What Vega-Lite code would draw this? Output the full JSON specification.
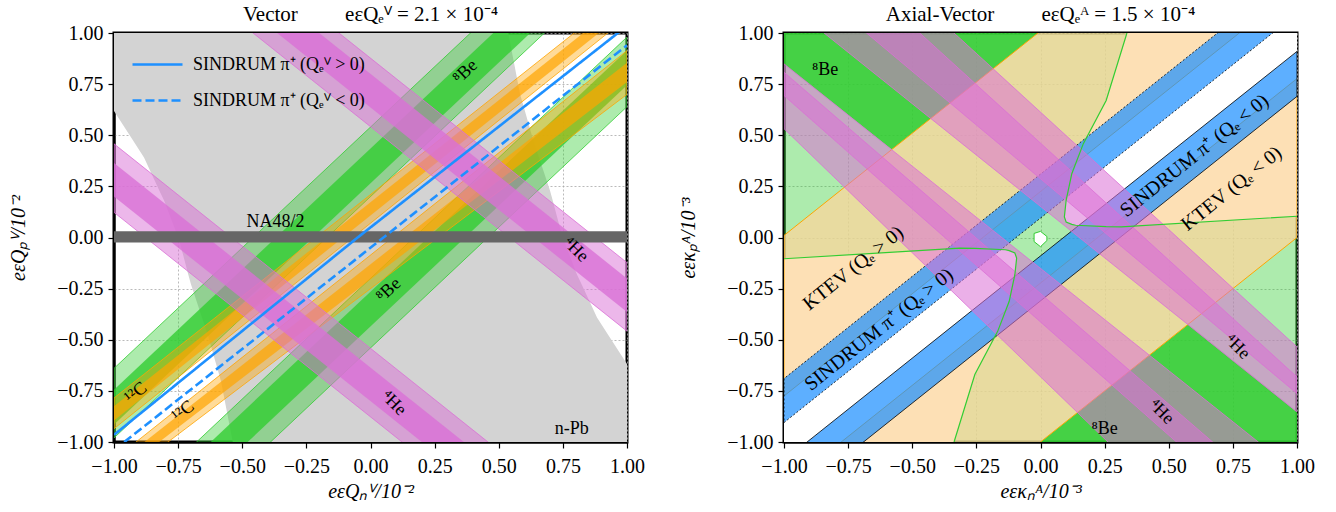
{
"$schema":"https://vega.github.io/schema/vega-lite/v6.json",
"padding":{"left":7,"top":2,"right":5,"bottom":5},
"spacing":31,
"datasets":{
"vgray":[{"y":1,"xl":-1,"xr":0.537},{"y":0.702,"xl":-1,"xr":0.583},{"y":0.619,"xl":-1,"xr":0.602},{"y":0.473,"xl":-0.925,"xr":0.635},{"y":0.391,"xl":-0.883,"xr":0.657},{"y":0.229,"xl":-0.823,"xr":0.70},{"y":0.178,"xl":-0.804,"xr":0.711},{"y":0.017,"xl":-0.755,"xr":0.745},{"y":-0.017,"xl":-0.745,"xr":0.755},{"y":-0.178,"xl":-0.711,"xr":0.804},{"y":-0.229,"xl":-0.70,"xr":0.823},{"y":-0.391,"xl":-0.657,"xr":0.883},{"y":-0.473,"xl":-0.635,"xr":0.925},{"y":-0.619,"xl":-0.602,"xr":1},{"y":-0.702,"xl":-0.583,"xr":1},{"y":-1,"xl":-0.537,"xr":1}],
"vgo":[{"id":"g1","x":-1,"lo":-0.98,"hi":-0.64},{"id":"g1","x":1,"lo":1.38,"hi":1.72},{"id":"g2","x":-1,"lo":-1.72,"hi":-1.38},{"id":"g2","x":1,"lo":0.64,"hi":0.98}],
"vgc":[{"id":"g1","x":-1,"lo":-0.915,"hi":-0.745},{"id":"g1","x":1,"lo":1.445,"hi":1.615},{"id":"g2","x":-1,"lo":-1.615,"hi":-1.445},{"id":"g2","x":1,"lo":0.745,"hi":0.915}],
"voo":[{"id":"c1","x":-1,"lo":-0.935,"hi":-0.785},{"id":"c1","x":1,"lo":1.075,"hi":1.205},{"id":"c2","x":-1,"lo":-1.20,"hi":-1.086},{"id":"c2","x":1,"lo":0.70,"hi":0.914}],
"voc":[{"id":"c1","x":-1,"lo":-0.895,"hi":-0.825},{"id":"c1","x":1,"lo":1.11,"hi":1.17},{"id":"c2","x":-1,"lo":-1.17,"hi":-1.117},{"id":"c2","x":1,"lo":0.76,"hi":0.855}],
"vpo":[{"id":"p1","x":-1,"lo":1.542,"hi":1.877},{"id":"p1","x":1,"lo":-0.458,"hi":-0.123},{"id":"p2","x":-1,"lo":0.123,"hi":0.458},{"id":"p2","x":1,"lo":-1.877,"hi":-1.542}],
"vpc":[{"id":"p1","x":-1,"lo":1.636,"hi":1.80},{"id":"p1","x":1,"lo":-0.364,"hi":-0.20},{"id":"p2","x":-1,"lo":0.20,"hi":0.364},{"id":"p2","x":1,"lo":-1.80,"hi":-1.636}],
"vna":[{"x":-1,"lo":-0.025,"hi":0.03},{"x":1,"lo":-0.025,"hi":0.03}],
"vlines":[{"s":"SINDRUM π⁺ (Qₑⱽ > 0)","x":-1,"y":-0.965},{"s":"SINDRUM π⁺ (Qₑⱽ > 0)","x":-0.05,"y":0},{"s":"SINDRUM π⁺ (Qₑⱽ > 0)","x":1,"y":1.035},{"s":"SINDRUM π⁺ (Qₑⱽ < 0)","x":-1,"y":-1.04},{"s":"SINDRUM π⁺ (Qₑⱽ < 0)","x":1,"y":0.94}],
"vt1":[{"x":0.37,"y":0.81,"t":"⁸Be"},{"x":0.071,"y":-0.257,"t":"⁸Be"}],
"vt2":[{"x":0.80,"y":-0.06,"t":"⁴He"},{"x":0.09,"y":-0.81,"t":"⁴He"}],
"vt3":[{"x":-0.915,"y":-0.76,"t":"¹²C"},{"x":-0.73,"y":-0.85,"t":"¹²C"}],
"vt4":[{"x":-0.37,"y":0.075,"t":"NA48/2"},{"x":0.785,"y":-0.935,"t":"n-Pb"}],
"alg":[{"x":-1,"lo":-1,"hi":1},{"x":1,"lo":-1,"hi":1}],
"awz":[{"id":"ne","x":0.093,"lo":0.10,"hi":0.10},{"id":"ne","x":0.10,"lo":0.076,"hi":0.182},{"id":"ne","x":0.122,"lo":0.064,"hi":0.312},{"id":"ne","x":0.137,"lo":0.06,"hi":0.361},{"id":"ne","x":0.167,"lo":0.057,"hi":0.459},{"id":"ne","x":0.256,"lo":0.053,"hi":0.67},{"id":"ne","x":0.315,"lo":0.052,"hi":0.91},{"id":"ne","x":0.337,"lo":0.052,"hi":1},{"id":"ne","x":1,"lo":0.104,"hi":1},
{"id":"sw","x":-1,"lo":-1,"hi":-0.104},{"id":"sw","x":-0.337,"lo":-1,"hi":-0.052},{"id":"sw","x":-0.315,"lo":-0.91,"hi":-0.052},{"id":"sw","x":-0.256,"lo":-0.67,"hi":-0.053},{"id":"sw","x":-0.167,"lo":-0.459,"hi":-0.057},{"id":"sw","x":-0.137,"lo":-0.361,"hi":-0.06},{"id":"sw","x":-0.122,"lo":-0.312,"hi":-0.064},{"id":"sw","x":-0.10,"lo":-0.182,"hi":-0.076},{"id":"sw","x":-0.093,"lo":-0.10,"hi":-0.10}],
"adg":[{"id":"tl","x":-1,"lo":0.849,"hi":1},{"id":"tl","x":-0.58,"lo":0.43,"hi":1},{"id":"tl","x":-0.01,"lo":1,"hi":1},{"id":"br","x":0,"lo":-1,"hi":-1},{"id":"br","x":0.575,"lo":-1,"hi":-0.425},{"id":"br","x":1,"lo":-1,"hi":-0.853}],
"apeach":[{"id":"pp","x":-1,"lo":-0.775,"hi":0.01},{"id":"pp","x":1,"lo":1.225,"hi":2.01},{"id":"pm","x":-1,"lo":-2.0,"hi":-1.223},{"id":"pm","x":1,"lo":0.0,"hi":0.777}],
"abu":[{"x":-1,"lo":-0.905,"hi":-0.69},{"x":1,"lo":1.095,"hi":1.31}],
"abl":[{"x":-1,"lo":-1.31,"hi":-1.09},{"x":1,"lo":0.69,"hi":0.91}],
"apink":[{"id":"u1","x":-1,"lo":1.157,"hi":1.605},{"id":"u1","x":1,"lo":-0.853,"hi":-0.682},{"id":"u2","x":-1,"lo":1.338,"hi":1.761},{"id":"u2","x":1,"lo":-0.763,"hi":-0.535},{"id":"l1","x":-1,"lo":0.532,"hi":0.808},{"id":"l1","x":1,"lo":-1.894,"hi":-1.356},{"id":"l2","x":-1,"lo":0.694,"hi":0.849},{"id":"l2","x":1,"lo":-1.52,"hi":-1.151}],
"acurves":[{"id":"ur","o":1,"x":0.337,"y":1},{"id":"ur","o":2,"x":0.256,"y":0.67},{"id":"ur","o":3,"x":0.167,"y":0.459},{"id":"ur","o":4,"x":0.122,"y":0.312},{"id":"ur","o":5,"x":0.10,"y":0.182},{"id":"ur","o":6,"x":0.093,"y":0.10},{"id":"ur","o":7,"x":0.10,"y":0.076},{"id":"ur","o":8,"x":0.122,"y":0.064},{"id":"ur","o":9,"x":0.137,"y":0.06},{"id":"ur","o":10,"x":0.256,"y":0.053},{"id":"ur","o":11,"x":0.315,"y":0.052},{"id":"ur","o":12,"x":1,"y":0.104},
{"id":"ll","o":1,"x":-0.337,"y":-1},{"id":"ll","o":2,"x":-0.256,"y":-0.67},{"id":"ll","o":3,"x":-0.167,"y":-0.459},{"id":"ll","o":4,"x":-0.122,"y":-0.312},{"id":"ll","o":5,"x":-0.10,"y":-0.182},{"id":"ll","o":6,"x":-0.093,"y":-0.10},{"id":"ll","o":7,"x":-0.10,"y":-0.076},{"id":"ll","o":8,"x":-0.122,"y":-0.064},{"id":"ll","o":9,"x":-0.137,"y":-0.06},{"id":"ll","o":10,"x":-0.256,"y":-0.053},{"id":"ll","o":11,"x":-0.315,"y":-0.052},{"id":"ll","o":12,"x":-1,"y":-0.104}],
"aspot":[{"x":-0.025,"lo":-0.02,"hi":0.02},{"x":0,"lo":-0.045,"hi":0.03},{"x":0.025,"lo":-0.015,"hi":0.005}],
"at1":[{"x":-0.84,"y":0.82,"t":"⁸Be"},{"x":0.25,"y":-0.935,"t":"⁸Be"}],
"at2":[{"x":0.767,"y":-0.535,"t":"⁴He"},{"x":0.471,"y":-0.853,"t":"⁴He"}],
"at3":[{"x":-0.73,"y":-0.15,"t":"KTEV (Qₑ > 0)"},{"x":-0.63,"y":-0.45,"t":"SINDRUM π⁺ (Qₑ > 0)"},{"x":0.60,"y":0.40,"t":"SINDRUM π⁺ (Qₑ < 0)"},{"x":0.745,"y":0.239,"t":"KTEV (Qₑ < 0)"}]
},
"hconcat":[
{
"width":513,"height":409,
"title":{"text":"Vector\u2003\u2003 eεQₑⱽ = 2.1 × 10⁻⁴"},
"layer":[
{"data":{"name":"vgray"},"mark":{"type":"area","orient":"horizontal","fill":"#d3d3d3","clip":true},
"encoding":{"y":{"field":"y","type":"quantitative","scale":{"domain":[-1,1],"nice":false,"zero":false},"axis":{"title":"eεQₚⱽ/10⁻²","values":[-1,-0.75,-0.5,-0.25,0,0.25,0.5,0.75,1],"format":".2f"}},
"x":{"field":"xl","type":"quantitative","scale":{"domain":[-1,1],"nice":false,"zero":false},"axis":{"title":"eεQₙⱽ/10⁻²","values":[-1,-0.75,-0.5,-0.25,0,0.25,0.5,0.75,1],"format":".2f"}},"x2":{"field":"xr"}}},
{"data":{"name":"vgo"},"mark":{"type":"area","fill":"#32cd32","fillOpacity":0.4,"stroke":"#32cd32","strokeWidth":0.8,"clip":true},
"encoding":{"x":{"field":"x","type":"quantitative","scale":{"domain":[-1,1],"nice":false,"zero":false},"axis":{"title":"eεQₙⱽ/10⁻²","values":[-1,-0.75,-0.5,-0.25,0,0.25,0.5,0.75,1],"format":".2f"}},
"y":{"field":"lo","type":"quantitative","scale":{"domain":[-1,1],"nice":false,"zero":false},"axis":{"title":"eεQₚⱽ/10⁻²","values":[-1,-0.75,-0.5,-0.25,0,0.25,0.5,0.75,1],"format":".2f"}},"y2":{"field":"hi"},"detail":{"field":"id"}}},
{"data":{"name":"vgc"},"mark":{"type":"area","fill":"#32cd32","fillOpacity":0.8,"clip":true},
"encoding":{"x":{"field":"x","type":"quantitative","scale":{"domain":[-1,1],"nice":false,"zero":false},"axis":{"title":"eεQₙⱽ/10⁻²","values":[-1,-0.75,-0.5,-0.25,0,0.25,0.5,0.75,1],"format":".2f"}},
"y":{"field":"lo","type":"quantitative","scale":{"domain":[-1,1],"nice":false,"zero":false},"axis":{"title":"eεQₚⱽ/10⁻²","values":[-1,-0.75,-0.5,-0.25,0,0.25,0.5,0.75,1],"format":".2f"}},"y2":{"field":"hi"},"detail":{"field":"id"}}},
{"data":{"name":"voo"},"mark":{"type":"area","fill":"#ffa500","fillOpacity":0.4,"stroke":"#ffa500","strokeWidth":0.8,"clip":true},
"encoding":{"x":{"field":"x","type":"quantitative","scale":{"domain":[-1,1],"nice":false,"zero":false},"axis":{"title":"eεQₙⱽ/10⁻²","values":[-1,-0.75,-0.5,-0.25,0,0.25,0.5,0.75,1],"format":".2f"}},
"y":{"field":"lo","type":"quantitative","scale":{"domain":[-1,1],"nice":false,"zero":false},"axis":{"title":"eεQₚⱽ/10⁻²","values":[-1,-0.75,-0.5,-0.25,0,0.25,0.5,0.75,1],"format":".2f"}},"y2":{"field":"hi"},"detail":{"field":"id"}}},
{"data":{"name":"voc"},"mark":{"type":"area","fill":"#ffa500","fillOpacity":0.7,"clip":true},
"encoding":{"x":{"field":"x","type":"quantitative","scale":{"domain":[-1,1],"nice":false,"zero":false},"axis":{"title":"eεQₙⱽ/10⁻²","values":[-1,-0.75,-0.5,-0.25,0,0.25,0.5,0.75,1],"format":".2f"}},
"y":{"field":"lo","type":"quantitative","scale":{"domain":[-1,1],"nice":false,"zero":false},"axis":{"title":"eεQₚⱽ/10⁻²","values":[-1,-0.75,-0.5,-0.25,0,0.25,0.5,0.75,1],"format":".2f"}},"y2":{"field":"hi"},"detail":{"field":"id"}}},
{"data":{"name":"vpo"},"mark":{"type":"area","fill":"#da70d6","fillOpacity":0.5,"stroke":"#da70d6","strokeWidth":0.8,"clip":true},
"encoding":{"x":{"field":"x","type":"quantitative","scale":{"domain":[-1,1],"nice":false,"zero":false},"axis":{"title":"eεQₙⱽ/10⁻²","values":[-1,-0.75,-0.5,-0.25,0,0.25,0.5,0.75,1],"format":".2f"}},
"y":{"field":"lo","type":"quantitative","scale":{"domain":[-1,1],"nice":false,"zero":false},"axis":{"title":"eεQₚⱽ/10⁻²","values":[-1,-0.75,-0.5,-0.25,0,0.25,0.5,0.75,1],"format":".2f"}},"y2":{"field":"hi"},"detail":{"field":"id"}}},
{"data":{"name":"vpc"},"mark":{"type":"area","fill":"#da70d6","fillOpacity":0.8,"clip":true},
"encoding":{"x":{"field":"x","type":"quantitative","scale":{"domain":[-1,1],"nice":false,"zero":false},"axis":{"title":"eεQₙⱽ/10⁻²","values":[-1,-0.75,-0.5,-0.25,0,0.25,0.5,0.75,1],"format":".2f"}},
"y":{"field":"lo","type":"quantitative","scale":{"domain":[-1,1],"nice":false,"zero":false},"axis":{"title":"eεQₚⱽ/10⁻²","values":[-1,-0.75,-0.5,-0.25,0,0.25,0.5,0.75,1],"format":".2f"}},"y2":{"field":"hi"},"detail":{"field":"id"}}},
{"data":{"name":"vna"},"mark":{"type":"area","fill":"#666666","clip":true},
"encoding":{"x":{"field":"x","type":"quantitative","scale":{"domain":[-1,1],"nice":false,"zero":false},"axis":{"title":"eεQₙⱽ/10⁻²","values":[-1,-0.75,-0.5,-0.25,0,0.25,0.5,0.75,1],"format":".2f"}},
"y":{"field":"lo","type":"quantitative","scale":{"domain":[-1,1],"nice":false,"zero":false},"axis":{"title":"eεQₚⱽ/10⁻²","values":[-1,-0.75,-0.5,-0.25,0,0.25,0.5,0.75,1],"format":".2f"}},"y2":{"field":"hi"}}},
{"data":{"name":"vlines"},"mark":{"type":"line","color":"#1e90ff","strokeWidth":2.6,"clip":true},
"encoding":{"x":{"field":"x","type":"quantitative","scale":{"domain":[-1,1],"nice":false,"zero":false},"axis":{"title":"eεQₙⱽ/10⁻²","values":[-1,-0.75,-0.5,-0.25,0,0.25,0.5,0.75,1],"format":".2f"}},
"y":{"field":"y","type":"quantitative","scale":{"domain":[-1,1],"nice":false,"zero":false},"axis":{"title":"eεQₚⱽ/10⁻²","values":[-1,-0.75,-0.5,-0.25,0,0.25,0.5,0.75,1],"format":".2f"}},
"strokeDash":{"field":"s","type":"nominal","scale":{"domain":["SINDRUM π⁺ (Qₑⱽ > 0)","SINDRUM π⁺ (Qₑⱽ < 0)"],"range":[[1,0],[9,4]]},
"legend":{"title":null,"orient":"none","legendX":17,"legendY":5,"symbolType":"stroke","symbolSize":2500,"symbolStrokeWidth":2.6,"symbolStrokeColor":"#1e90ff","labelFont":"Liberation Serif","labelFontSize":18,"labelColor":"black","labelOffset":9,"labelLimit":0,"rowPadding":-26}}}},
{"data":{"name":"vt1"},"mark":{"type":"text","angle":-43,"fontSize":18,"font":"Liberation Serif","color":"black","baseline":"middle","align":"center"},
"encoding":{"x":{"field":"x","type":"quantitative","scale":{"domain":[-1,1],"nice":false,"zero":false},"axis":{"title":"eεQₙⱽ/10⁻²","values":[-1,-0.75,-0.5,-0.25,0,0.25,0.5,0.75,1],"format":".2f"}},
"y":{"field":"y","type":"quantitative","scale":{"domain":[-1,1],"nice":false,"zero":false},"axis":{"title":"eεQₚⱽ/10⁻²","values":[-1,-0.75,-0.5,-0.25,0,0.25,0.5,0.75,1],"format":".2f"}},"text":{"field":"t"}}},
{"data":{"name":"vt2"},"mark":{"type":"text","angle":45,"fontSize":18,"font":"Liberation Serif","color":"black","baseline":"middle","align":"center"},
"encoding":{"x":{"field":"x","type":"quantitative","scale":{"domain":[-1,1],"nice":false,"zero":false},"axis":{"title":"eεQₙⱽ/10⁻²","values":[-1,-0.75,-0.5,-0.25,0,0.25,0.5,0.75,1],"format":".2f"}},
"y":{"field":"y","type":"quantitative","scale":{"domain":[-1,1],"nice":false,"zero":false},"axis":{"title":"eεQₚⱽ/10⁻²","values":[-1,-0.75,-0.5,-0.25,0,0.25,0.5,0.75,1],"format":".2f"}},"text":{"field":"t"}}},
{"data":{"name":"vt3"},"mark":{"type":"text","angle":-38,"fontSize":18,"font":"Liberation Serif","color":"black","baseline":"middle","align":"center"},
"encoding":{"x":{"field":"x","type":"quantitative","scale":{"domain":[-1,1],"nice":false,"zero":false},"axis":{"title":"eεQₙⱽ/10⁻²","values":[-1,-0.75,-0.5,-0.25,0,0.25,0.5,0.75,1],"format":".2f"}},
"y":{"field":"y","type":"quantitative","scale":{"domain":[-1,1],"nice":false,"zero":false},"axis":{"title":"eεQₚⱽ/10⁻²","values":[-1,-0.75,-0.5,-0.25,0,0.25,0.5,0.75,1],"format":".2f"}},"text":{"field":"t"}}},
{"data":{"name":"vt4"},"mark":{"type":"text","fontSize":18,"font":"Liberation Serif","color":"black","baseline":"middle","align":"center"},
"encoding":{"x":{"field":"x","type":"quantitative","scale":{"domain":[-1,1],"nice":false,"zero":false},"axis":{"title":"eεQₙⱽ/10⁻²","values":[-1,-0.75,-0.5,-0.25,0,0.25,0.5,0.75,1],"format":".2f"}},
"y":{"field":"y","type":"quantitative","scale":{"domain":[-1,1],"nice":false,"zero":false},"axis":{"title":"eεQₚⱽ/10⁻²","values":[-1,-0.75,-0.5,-0.25,0,0.25,0.5,0.75,1],"format":".2f"}},"text":{"field":"t"}}}
]
},
{
"width":513,"height":409,
"title":{"text":"Axial-Vector\u2003\u2003 eεQₑᴬ = 1.5 × 10⁻⁴"},
"layer":[
{"data":{"name":"alg"},"mark":{"type":"area","fill":"#32cd32","fillOpacity":0.4,"clip":true},
"encoding":{"x":{"field":"x","type":"quantitative","scale":{"domain":[-1,1],"nice":false,"zero":false},"axis":{"title":"eεκₙᴬ/10⁻³","values":[-1,-0.75,-0.5,-0.25,0,0.25,0.5,0.75,1],"format":".2f"}},
"y":{"field":"lo","type":"quantitative","scale":{"domain":[-1,1],"nice":false,"zero":false},"axis":{"title":"eεκₚᴬ/10⁻³","values":[-1,-0.75,-0.5,-0.25,0,0.25,0.5,0.75,1],"format":".2f"}},"y2":{"field":"hi"}}},
{"data":{"name":"awz"},"mark":{"type":"area","fill":"#ffffff","clip":true},
"encoding":{"x":{"field":"x","type":"quantitative","scale":{"domain":[-1,1],"nice":false,"zero":false},"axis":{"title":"eεκₙᴬ/10⁻³","values":[-1,-0.75,-0.5,-0.25,0,0.25,0.5,0.75,1],"format":".2f"}},
"y":{"field":"lo","type":"quantitative","scale":{"domain":[-1,1],"nice":false,"zero":false},"axis":{"title":"eεκₚᴬ/10⁻³","values":[-1,-0.75,-0.5,-0.25,0,0.25,0.5,0.75,1],"format":".2f"}},"y2":{"field":"hi"},"detail":{"field":"id"}}},
{"data":{"name":"adg"},"mark":{"type":"area","fill":"#32cd32","fillOpacity":0.85,"clip":true},
"encoding":{"x":{"field":"x","type":"quantitative","scale":{"domain":[-1,1],"nice":false,"zero":false},"axis":{"title":"eεκₙᴬ/10⁻³","values":[-1,-0.75,-0.5,-0.25,0,0.25,0.5,0.75,1],"format":".2f"}},
"y":{"field":"lo","type":"quantitative","scale":{"domain":[-1,1],"nice":false,"zero":false},"axis":{"title":"eεκₚᴬ/10⁻³","values":[-1,-0.75,-0.5,-0.25,0,0.25,0.5,0.75,1],"format":".2f"}},"y2":{"field":"hi"},"detail":{"field":"id"}}},
{"data":{"name":"apeach"},"mark":{"type":"area","fill":"#fcd59c","fillOpacity":0.75,"stroke":"#ffa500","strokeWidth":1,"clip":true},
"encoding":{"x":{"field":"x","type":"quantitative","scale":{"domain":[-1,1],"nice":false,"zero":false},"axis":{"title":"eεκₙᴬ/10⁻³","values":[-1,-0.75,-0.5,-0.25,0,0.25,0.5,0.75,1],"format":".2f"}},
"y":{"field":"lo","type":"quantitative","scale":{"domain":[-1,1],"nice":false,"zero":false},"axis":{"title":"eεκₚᴬ/10⁻³","values":[-1,-0.75,-0.5,-0.25,0,0.25,0.5,0.75,1],"format":".2f"}},"y2":{"field":"hi"},"detail":{"field":"id"}}},
{"data":{"name":"abu"},"mark":{"type":"area","fill":"#1e90ff","fillOpacity":0.72,"stroke":"black","strokeWidth":0.8,"strokeDash":[2,2],"clip":true},
"encoding":{"x":{"field":"x","type":"quantitative","scale":{"domain":[-1,1],"nice":false,"zero":false},"axis":{"title":"eεκₙᴬ/10⁻³","values":[-1,-0.75,-0.5,-0.25,0,0.25,0.5,0.75,1],"format":".2f"}},
"y":{"field":"lo","type":"quantitative","scale":{"domain":[-1,1],"nice":false,"zero":false},"axis":{"title":"eεκₚᴬ/10⁻³","values":[-1,-0.75,-0.5,-0.25,0,0.25,0.5,0.75,1],"format":".2f"}},"y2":{"field":"hi"}}},
{"data":{"name":"abl"},"mark":{"type":"area","fill":"#1e90ff","fillOpacity":0.72,"stroke":"black","strokeWidth":0.8,"clip":true},
"encoding":{"x":{"field":"x","type":"quantitative","scale":{"domain":[-1,1],"nice":false,"zero":false},"axis":{"title":"eεκₙᴬ/10⁻³","values":[-1,-0.75,-0.5,-0.25,0,0.25,0.5,0.75,1],"format":".2f"}},
"y":{"field":"lo","type":"quantitative","scale":{"domain":[-1,1],"nice":false,"zero":false},"axis":{"title":"eεκₚᴬ/10⁻³","values":[-1,-0.75,-0.5,-0.25,0,0.25,0.5,0.75,1],"format":".2f"}},"y2":{"field":"hi"}}},
{"data":{"name":"apink"},"mark":{"type":"area","fill":"#da70d6","fillOpacity":0.55,"stroke":"#da70d6","strokeWidth":0.8,"clip":true},
"encoding":{"x":{"field":"x","type":"quantitative","scale":{"domain":[-1,1],"nice":false,"zero":false},"axis":{"title":"eεκₙᴬ/10⁻³","values":[-1,-0.75,-0.5,-0.25,0,0.25,0.5,0.75,1],"format":".2f"}},
"y":{"field":"lo","type":"quantitative","scale":{"domain":[-1,1],"nice":false,"zero":false},"axis":{"title":"eεκₚᴬ/10⁻³","values":[-1,-0.75,-0.5,-0.25,0,0.25,0.5,0.75,1],"format":".2f"}},"y2":{"field":"hi"},"detail":{"field":"id"}}},
{"data":{"name":"acurves"},"mark":{"type":"line","color":"#32cd32","strokeWidth":1.2,"clip":true},
"encoding":{"x":{"field":"x","type":"quantitative","scale":{"domain":[-1,1],"nice":false,"zero":false},"axis":{"title":"eεκₙᴬ/10⁻³","values":[-1,-0.75,-0.5,-0.25,0,0.25,0.5,0.75,1],"format":".2f"}},
"y":{"field":"y","type":"quantitative","scale":{"domain":[-1,1],"nice":false,"zero":false},"axis":{"title":"eεκₚᴬ/10⁻³","values":[-1,-0.75,-0.5,-0.25,0,0.25,0.5,0.75,1],"format":".2f"}},"detail":{"field":"id"},"order":{"field":"o","type":"quantitative"}}},
{"data":{"name":"aspot"},"mark":{"type":"area","fill":"#ffffff","stroke":"#32cd32","strokeWidth":1,"clip":true},
"encoding":{"x":{"field":"x","type":"quantitative","scale":{"domain":[-1,1],"nice":false,"zero":false},"axis":{"title":"eεκₙᴬ/10⁻³","values":[-1,-0.75,-0.5,-0.25,0,0.25,0.5,0.75,1],"format":".2f"}},
"y":{"field":"lo","type":"quantitative","scale":{"domain":[-1,1],"nice":false,"zero":false},"axis":{"title":"eεκₚᴬ/10⁻³","values":[-1,-0.75,-0.5,-0.25,0,0.25,0.5,0.75,1],"format":".2f"}},"y2":{"field":"hi"}}},
{"data":{"name":"at1"},"mark":{"type":"text","fontSize":18,"font":"Liberation Serif","color":"black","baseline":"middle","align":"center"},
"encoding":{"x":{"field":"x","type":"quantitative","scale":{"domain":[-1,1],"nice":false,"zero":false},"axis":{"title":"eεκₙᴬ/10⁻³","values":[-1,-0.75,-0.5,-0.25,0,0.25,0.5,0.75,1],"format":".2f"}},
"y":{"field":"y","type":"quantitative","scale":{"domain":[-1,1],"nice":false,"zero":false},"axis":{"title":"eεκₚᴬ/10⁻³","values":[-1,-0.75,-0.5,-0.25,0,0.25,0.5,0.75,1],"format":".2f"}},"text":{"field":"t"}}},
{"data":{"name":"at2"},"mark":{"type":"text","angle":45,"fontSize":18,"font":"Liberation Serif","color":"black","baseline":"middle","align":"center"},
"encoding":{"x":{"field":"x","type":"quantitative","scale":{"domain":[-1,1],"nice":false,"zero":false},"axis":{"title":"eεκₙᴬ/10⁻³","values":[-1,-0.75,-0.5,-0.25,0,0.25,0.5,0.75,1],"format":".2f"}},
"y":{"field":"y","type":"quantitative","scale":{"domain":[-1,1],"nice":false,"zero":false},"axis":{"title":"eεκₚᴬ/10⁻³","values":[-1,-0.75,-0.5,-0.25,0,0.25,0.5,0.75,1],"format":".2f"}},"text":{"field":"t"}}},
{"data":{"name":"at3"},"mark":{"type":"text","angle":-38.6,"fontSize":20,"font":"Liberation Serif","color":"black","baseline":"middle","align":"center"},
"encoding":{"x":{"field":"x","type":"quantitative","scale":{"domain":[-1,1],"nice":false,"zero":false},"axis":{"title":"eεκₙᴬ/10⁻³","values":[-1,-0.75,-0.5,-0.25,0,0.25,0.5,0.75,1],"format":".2f"}},
"y":{"field":"y","type":"quantitative","scale":{"domain":[-1,1],"nice":false,"zero":false},"axis":{"title":"eεκₚᴬ/10⁻³","values":[-1,-0.75,-0.5,-0.25,0,0.25,0.5,0.75,1],"format":".2f"}},"text":{"field":"t"}}}
]
}
],
"config":{
"font":"Liberation Serif",
"view":{"stroke":"black","strokeWidth":3},
"axis":{"labelFont":"Liberation Serif","labelFontSize":20,"labelColor":"black","labelFlush":false,"labelOverlap":false,"titleFont":"Liberation Serif","titleFontSize":20,"titleFontWeight":"normal","titleFontStyle":"italic","titleColor":"black","tickColor":"black","tickSize":6,"tickWidth":1.2,"domain":true,"domainColor":"black","domainWidth":2,"grid":true,"gridColor":"#a8a8a8","gridWidth":0.8,"gridDash":[2,2],"zindex":1,"labelPadding":5},
"axisY":{"titlePadding":28},
"axisX":{"titlePadding":5,"labelPadding":8},
"title":{"font":"Liberation Serif","fontSize":21,"fontWeight":"normal","color":"black","offset":-2}
}
}
